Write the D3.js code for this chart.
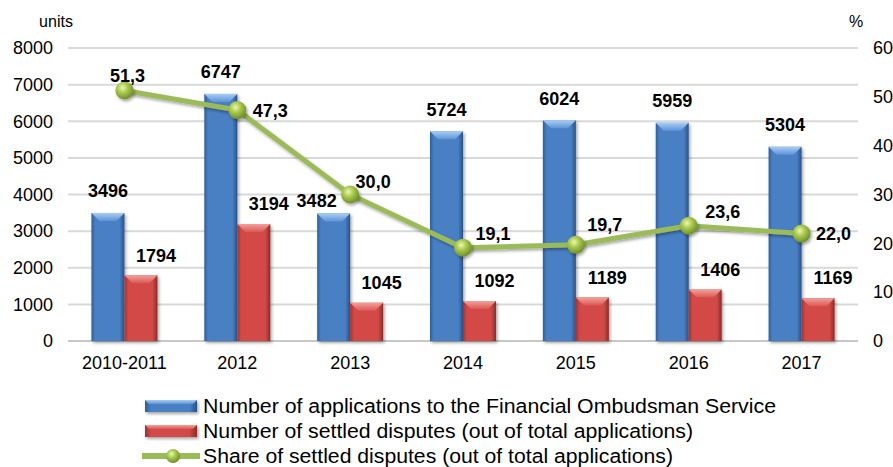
<!DOCTYPE html>
<html>
<head>
<meta charset="utf-8">
<title>Financial Ombudsman</title>
<script src="https://cdn.jsdelivr.net/npm/d3@7"></script>
<style>
    body { margin: 0; background: #fff; }
    svg text { font-family: "Liberation Sans", Arial, sans-serif; fill: #000; }
</style>
</head>
<body>
<script>
    // data
    var categories = ['2010-2011', '2012', '2013', '2014', '2015', '2016', '2017'];
    var applications = [3496, 6747, 3482, 5724, 6024, 5959, 5304];
    var settled = [1794, 3194, 1045, 1092, 1189, 1406, 1169];
    var share = [51.3, 47.3, 30.0, 19.1, 19.7, 23.6, 22.0];
    var leftTicks = [0, 1000, 2000, 3000, 4000, 5000, 6000, 7000, 8000];
    var rightTicks = [0, 10, 20, 30, 40, 50, 60];
    var legendNames = [
        'Number of applications to the Financial Ombudsman Service',
        'Number of settled disputes (out of total applications)',
        'Share of settled disputes (out of total applications)'
    ];

    // label nudges (the original labels were dragged by hand in places)
    var appLabelShift = [[0, 0], [0, 0], [-17, 9], [0, 0], [0, 0], [0, 0], [0, 0]];
    var shareLabelShift = [[3, -15], [33, 1], [23, -13], [30, -14], [29, -20], [34, -14], [32, 0]];
    var legendWidths = [573, 490, 470];

    var W = 893, H = 467;
    var svg = d3.select('body').append('svg').attr('width', W).attr('height', H);
    var defs = svg.append('defs');

    function barGrad(id, c0, c1, c2) {
        var g = defs.append('linearGradient').attr('id', id).attr('x1', 0).attr('x2', 1).attr('y1', 0).attr('y2', 0);
        g.append('stop').attr('offset', '0%').attr('stop-color', c0);
        g.append('stop').attr('offset', '12%').attr('stop-color', c1);
        g.append('stop').attr('offset', '85%').attr('stop-color', c1);
        g.append('stop').attr('offset', '100%').attr('stop-color', c2);
    }
    barGrad('gBlue', '#2f5f9c', '#4a80c4', '#27528a');
    barGrad('gRed', '#9e3431', '#d24a46', '#8c2a27');

    function topGrad(id, a, b) {
        var g = defs.append('linearGradient').attr('id', id).attr('x1', 0).attr('x2', 0).attr('y1', 0).attr('y2', 1);
        g.append('stop').attr('offset', '0%').attr('stop-color', a);
        g.append('stop').attr('offset', '100%').attr('stop-color', b);
    }
    topGrad('tBlue', '#a9cdf5', '#5d93d6');
    topGrad('tRed', '#f3a09c', '#db5853');

    var rg = defs.append('radialGradient').attr('id', 'gBall').attr('cx', '40%').attr('cy', '35%').attr('r', '65%');
    rg.append('stop').attr('offset', '0%').attr('stop-color', '#eef7b0');
    rg.append('stop').attr('offset', '45%').attr('stop-color', '#a8c84e');
    rg.append('stop').attr('offset', '100%').attr('stop-color', '#6f8f2a');

    var sh = defs.append('filter').attr('id', 'shadow').attr('x', '-30%').attr('y', '-30%').attr('width', '160%').attr('height', '160%');
    sh.append('feDropShadow').attr('dx', 1.5).attr('dy', 2).attr('stdDeviation', 1.5)
        .attr('flood-color', '#000').attr('flood-opacity', 0.35);

    var x = d3.scaleBand().domain(categories).range([68, 858]);
    var y = d3.scaleLinear().domain([0, 8000]).range([341, 48]);
    var y2 = d3.scaleLinear().domain([0, 60]).range([341, 48]);
    var barW = 33;
    var sub = d3.scaleBand().domain([0, 1]).range([-barW, barW]);
    function cx(c) { return x(c) + x.bandwidth() / 2; }

    // gridlines
    svg.append('g').selectAll('line').data(leftTicks).enter().append('line')
        .attr('x1', 68).attr('x2', 858)
        .attr('y1', function (d) { return y(d); }).attr('y2', function (d) { return y(d); })
        .attr('stroke', function (d) { return d === 0 ? '#c8c8c8' : '#d9d9d9'; })
        .attr('stroke-width', 2);

    // axes (labels only)
    var left = svg.append('g').attr('transform', 'translate(53,0)')
        .call(d3.axisLeft(y).tickValues(leftTicks).tickSize(0).tickPadding(0).tickFormat(d3.format('d')));
    var right = svg.append('g').attr('transform', 'translate(873,0)')
        .call(d3.axisRight(y2).tickValues(rightTicks).tickSize(0).tickPadding(0));
    var bottom = svg.append('g').attr('transform', 'translate(0,352)')
        .call(d3.axisBottom(x).tickSize(0).tickPadding(0));
    [left, right, bottom].forEach(function (g) {
        g.select('.domain').remove();
        g.selectAll('text').attr('font-size', 18).attr('font-family', '"Liberation Sans", Arial, sans-serif').attr('fill', '#000');
    });
    bottom.selectAll('text').attr('dy', '0.95em');

    svg.append('text').attr('x', 56).attr('y', 27).attr('text-anchor', 'middle').attr('font-size', 16).text('units');
    svg.append('text').attr('x', 856).attr('y', 27).attr('text-anchor', 'middle').attr('font-size', 16).text('%');

    function drawBars(vals, k, fill, top) {
        var g = svg.append('g');
        vals.forEach(function (v, i) {
            var x0 = cx(categories[i]) + sub(k);
            var y0 = y(v), h = y(0) - y(v);
            var b = g.append('g').attr('filter', 'url(#shadow)');
            b.append('rect').attr('x', x0).attr('y', y0).attr('width', barW).attr('height', h)
                .attr('fill', 'url(#' + fill + ')');
            var bv = 8;
            b.append('path')
                .attr('d', 'M' + x0 + ',' + y0 + 'H' + (x0 + barW) + 'L' + (x0 + barW - bv) + ',' + (y0 + bv) +
                    'H' + (x0 + bv) + 'Z')
                .attr('fill', 'url(#' + top + ')');
        });
    }
    drawBars(applications, 0, 'gBlue', 'tBlue');
    drawBars(settled, 1, 'gRed', 'tRed');

    // line series
    var line = d3.line()
        .x(function (d, i) { return cx(categories[i]); })
        .y(function (d) { return y2(d); });
    svg.append('path').datum(share).attr('d', line)
        .attr('fill', 'none').attr('stroke', '#9bbb59').attr('stroke-width', 5)
        .attr('stroke-linejoin', 'round').attr('filter', 'url(#shadow)');
    svg.append('g').selectAll('circle').data(share).enter().append('circle')
        .attr('cx', function (d, i) { return cx(categories[i]); })
        .attr('cy', function (d) { return y2(d); })
        .attr('r', 9).attr('fill', 'url(#gBall)').attr('filter', 'url(#shadow)');

    // data labels
    var fmtComma = function (v) { return v.toFixed(1).replace('.', ','); };
    svg.append('g').selectAll('text').data(applications).enter().append('text')
        .attr('x', function (d, i) { return cx(categories[i]) + sub(0) + barW / 2 + appLabelShift[i][0]; })
        .attr('y', function (d, i) { return y(d) - 22 + appLabelShift[i][1]; })
        .attr('dy', '0.35em').attr('text-anchor', 'middle')
        .attr('font-size', 18).attr('font-weight', 'bold')
        .text(function (d) { return d; });
    svg.append('g').selectAll('text').data(settled).enter().append('text')
        .attr('x', function (d, i) { return cx(categories[i]) + sub(1) + barW / 2 + 15; })
        .attr('y', function (d) { return y(d) - 20; })
        .attr('dy', '0.35em').attr('text-anchor', 'middle')
        .attr('font-size', 18).attr('font-weight', 'bold')
        .text(function (d) { return d; });
    svg.append('g').selectAll('text').data(share).enter().append('text')
        .attr('x', function (d, i) { return cx(categories[i]) + shareLabelShift[i][0]; })
        .attr('y', function (d, i) { return y2(d) + shareLabelShift[i][1]; })
        .attr('dy', '0.35em').attr('text-anchor', 'middle')
        .attr('font-size', 18).attr('font-weight', 'bold')
        .text(function (d) { return fmtComma(d); });

    // legend
    var lg = svg.append('g');
    var ly = [406, 431, 456];
    [['gBlue', 'tBlue'], ['gRed', 'tRed']].forEach(function (f, i) {
        var g = lg.append('g').attr('filter', 'url(#shadow)');
        g.append('rect').attr('x', 145).attr('y', ly[i] - 6).attr('width', 52).attr('height', 12)
            .attr('fill', 'url(#' + f[0] + ')');
        g.append('path').attr('d', 'M145,' + (ly[i] - 6) + 'H197L193,' + (ly[i] - 2) + 'H149Z')
            .attr('fill', 'url(#' + f[1] + ')');
    });
    lg.append('line').attr('x1', 142).attr('x2', 200).attr('y1', ly[2]).attr('y2', ly[2])
        .attr('stroke', '#9bbb59').attr('stroke-width', 6);
    lg.append('circle').attr('cx', 173).attr('cy', ly[2]).attr('r', 7).attr('fill', 'url(#gBall)');
    lg.selectAll('text.lt').data(legendNames).enter().append('text').attr('class', 'lt')
        .attr('x', 203).attr('y', function (d, i) { return ly[i]; })
        .attr('dy', '0.36em').attr('font-size', 20)
        .attr('textLength', function (d, i) { return legendWidths[i]; })
        .attr('lengthAdjust', 'spacingAndGlyphs')
        .text(function (d) { return d; });
</script>
</body>
</html>
